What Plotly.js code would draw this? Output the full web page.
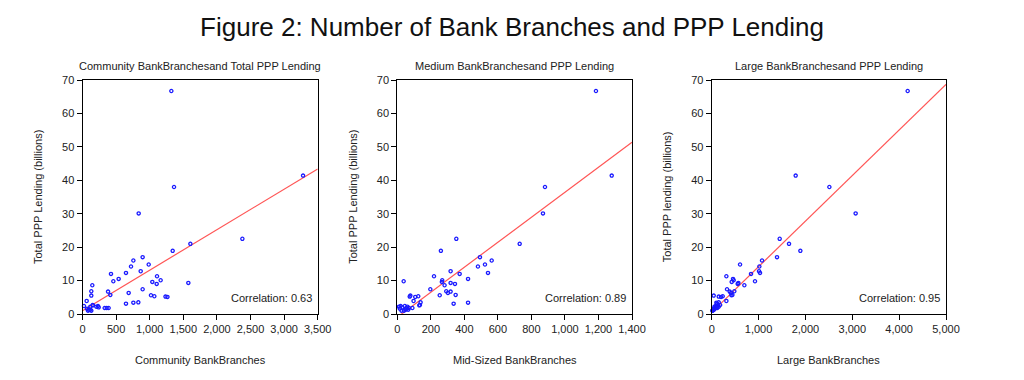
<!DOCTYPE html>
<html><head><meta charset="utf-8">
<script src="https://cdn.plot.ly/plotly-3.0.1.min.js"></script>
<style>html,body{margin:0;padding:0;background:#fff}</style>
</head><body><div id="chart" style="width:1024px;height:380px"></div>
<script>
// Total PPP lending (billions) per state, shared by all three panels
const pppLending = [66.7, 41.4, 38.0, 30.1, 22.5, 21.0, 18.9, 17.0, 16.0, 14.8, 14.2, 12.8, 12.3, 12.0, 11.3, 10.5, 10.1, 9.8, 9.6, 9.3, 9.0, 8.6, 7.4, 6.8, 6.7, 6.3, 5.7, 5.6, 5.5, 5.3, 5.2, 5.1, 3.9, 3.5, 3.4, 3.1, 2.7, 2.6, 2.4, 2.4, 2.2, 2.2, 2.0, 1.8, 1.8, 1.8, 1.6, 1.3, 1.3, 1.0, 1.0];
const communityBranches = [1322, 3282, 1362, 836, 2379, 1605, 1342, 895, 757, 985, 722, 866, 647, 424, 1109, 538, 1163, 459, 1039, 1575, 1104, 146, 895, 131, 380, 687, 414, 1019, 131, 1069, 1235, 1264, 62, 831, 757, 647, 151, 156, 22, 231, 117, 206, 241, 330, 360, 389, 67, 92, 117, 131, 82];
const midSizedBranches = [1185, 1279, 881, 869, 352, 730, 260, 493, 563, 523, 481, 318, 541, 372, 219, 422, 268, 38, 266, 318, 344, 282, 197, 292, 318, 302, 348, 253, 78, 125, 74, 107, 97, 139, 422, 336, 135, 131, 20, 45, 60, 10, 30, 70, 55, 90, 15, 50, 65, 40, 25];
const largeBranches = [4182, 1792, 2511, 3072, 1451, 1650, 1892, 1394, 1074, 605, 1017, 1010, 1031, 839, 313, 455, 469, 924, 427, 569, 555, 697, 327, 483, 384, 412, 441, 420, 43, 235, 150, 200, 313, 150, 100, 114, 180, 130, 110, 80, 150, 60, 90, 120, 70, 100, 40, 30, 50, 20, 15];

const panelTitles = ['Community BankBranchesand Total PPP Lending', 'Medium BankBranchesand PPP Lending', 'Large BankBranchesand PPP Lending'];
const xAxisTitles = ['Community BankBranches', 'Mid-Sized BankBranches', 'Large BankBranches'];
const yAxisTitles = ['Total PPP Lending (billions)', 'Total PPP Lending (billions)', 'Total PPP lending (billions)'];
const correlations = ['0.63', '0.89', '0.95'];
const fitIntercepts = [1.0, -0.97, 0.5];
const fitSlopes = [0.01211, 0.03741, 0.01364];
const xRanges = [[0, 3500], [0, 1400], [0, 5000]];
const xTickSteps = [500, 200, 1000];
const yRange = [0, 70];
const yTickStep = 10;

const W = 1024, H = 380;
const panelLeft = [82.5, 397.3, 711.7];
const panelRight = [317.7, 632.0, 946.0];
const plotTop = 80, plotBottom = 314;
const px = v => v / W, py = v => (H - v) / H;

const xSeries = [communityBranches, midSizedBranches, largeBranches];
const narrow = 'Liberation Sans Narrow, Arial Narrow, Liberation Sans, Arial, sans-serif';
const sans = 'Liberation Sans, Arial, sans-serif';

const data = [];
const layout = {
  width: W, height: H,
  margin: {l: 0, r: 0, t: 0, b: 0},
  paper_bgcolor: '#fff', plot_bgcolor: '#fff',
  showlegend: false,
  title: {text: 'Figure 2: Number of Bank Branches and PPP Lending', x: 0.5, xanchor: 'center', y: py(27), yanchor: 'middle', font: {family: sans, size: 26, color: '#111'}},
  annotations: []
};

for (let i = 0; i < 3; i++) {
  const sfx = i === 0 ? '' : String(i + 1);
  const xa = 'x' + sfx, ya = 'y' + sfx;
  data.push({
    type: 'scatter', mode: 'lines', xaxis: xa, yaxis: ya,
    x: xRanges[i].slice(),
    y: xRanges[i].map(v => fitIntercepts[i] + fitSlopes[i] * v),
    line: {color: '#ff5555', width: 1.2}, hoverinfo: 'skip'
  });
  data.push({
    type: 'scatter', mode: 'markers', xaxis: xa, yaxis: ya,
    x: xSeries[i], y: pppLending, cliponaxis: false,
    marker: {symbol: 'circle-open', size: 3.2, color: '#1a1aff', line: {width: 1.3, color: '#1a1aff'}}
  });
  layout['xaxis' + sfx] = {
    domain: [px(panelLeft[i]), px(panelRight[i])], anchor: ya,
    range: xRanges[i], tickmode: 'linear', tick0: 0, dtick: xTickSteps[i], tickformat: ',d',
    ticks: 'outside', ticklen: 5, tickcolor: '#000', showline: true, mirror: true,
    linecolor: '#000', linewidth: 1, showgrid: false, zeroline: false,
    tickfont: {family: narrow, size: 11, color: '#222'}
  };
  layout['yaxis' + sfx] = {
    domain: [py(plotBottom), py(plotTop)], anchor: xa,
    range: yRange, tickmode: 'linear', tick0: 0, dtick: yTickStep,
    ticks: 'outside', ticklen: 5, tickcolor: '#000', showline: true, mirror: true,
    linecolor: '#000', linewidth: 1, showgrid: false, zeroline: false,
    tickfont: {family: sans, size: 11, color: '#222'}
  };
  const cx = (panelLeft[i] + panelRight[i]) / 2;
  layout.annotations.push(
    {text: panelTitles[i], xref: 'paper', yref: 'paper', x: px(cx), y: py(65.5), xanchor: 'center', yanchor: 'middle', showarrow: false, font: {family: narrow, size: 11, color: '#222'}},
    {text: xAxisTitles[i], xref: 'paper', yref: 'paper', x: px(cx), y: py(360), xanchor: 'center', yanchor: 'middle', showarrow: false, font: {family: narrow, size: 11, color: '#222'}},
    {text: yAxisTitles[i], xref: 'paper', yref: 'paper', x: px(panelLeft[i] - 44.5), y: py((plotTop + plotBottom) / 2), xanchor: 'center', yanchor: 'middle', textangle: -90, showarrow: false, font: {family: sans, size: 11, color: '#222'}},
    {text: 'Correlation: ' + correlations[i], xref: 'paper', yref: 'paper', x: px(panelRight[i] - 4), y: py(298), xanchor: 'right', yanchor: 'middle', showarrow: false, font: {family: sans, size: 11, color: '#222'}}
  );
}

Plotly.newPlot('chart', data, layout, {staticPlot: true, displayModeBar: false});
</script></body></html>
